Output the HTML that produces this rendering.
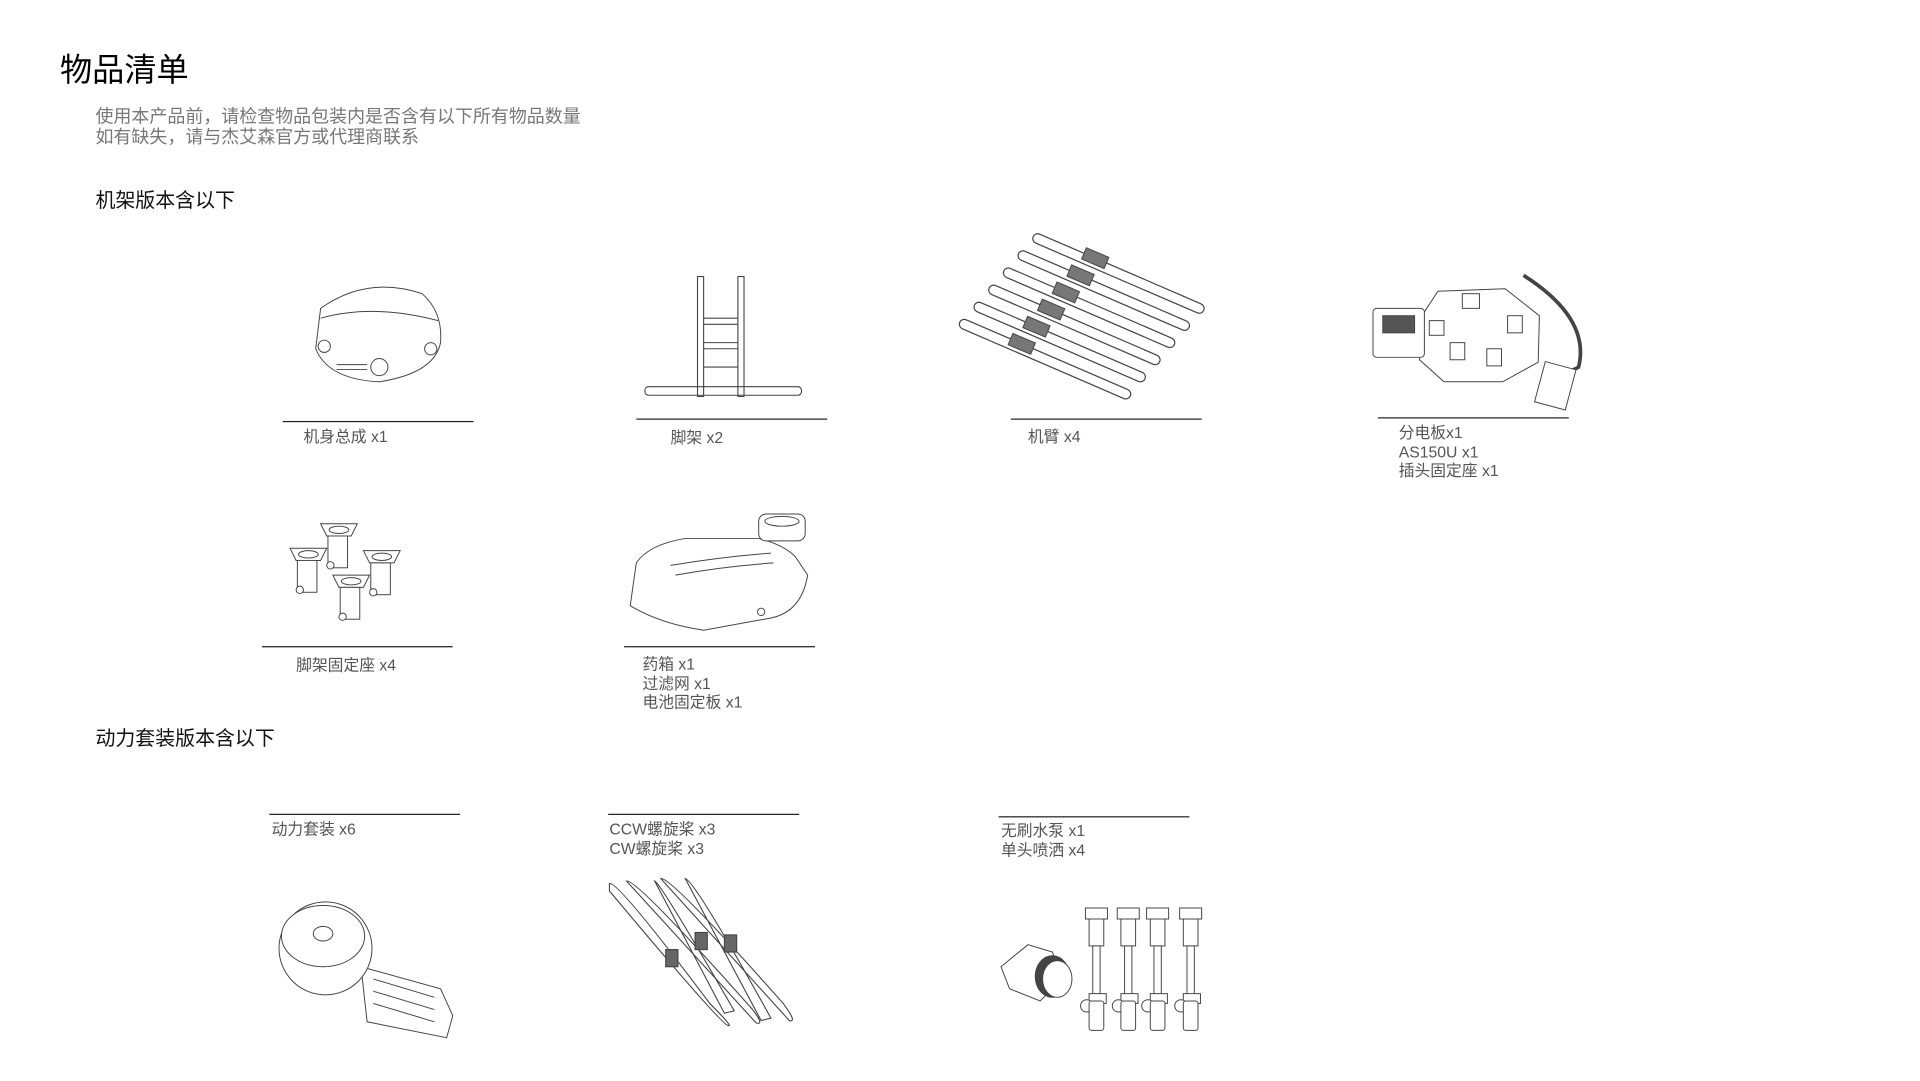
<!DOCTYPE html>
<html><head><meta charset="utf-8"><style>
html,body{margin:0;padding:0;background:#fff;width:1920px;height:1080px;overflow:hidden}
#w{position:absolute;left:0;top:0;width:1568px;height:883px;transform:scale(1.2237);transform-origin:0 0;font-family:"Liberation Sans","Noto Sans CJK SC",sans-serif}
.t{position:absolute;white-space:nowrap;line-height:1}
.l{position:absolute;height:0;border-top:1.2px solid #222;width:156px}
.lb{position:absolute;font-size:12.9px;color:#555;line-height:15.5px;white-space:nowrap}
svg{position:absolute;left:0;top:0}
</style></head><body><div id="w">
<div class="t" style="left:49px;top:44px;font-size:26.3px;color:#000">物品清单</div>
<div class="t" style="left:78px;top:88px;font-size:14.7px;color:#777;line-height:17px">使用本产品前，请检查物品包装内是否含有以下所有物品数量<br>如有缺失，请与杰艾森官方或代理商联系</div>
<div class="t" style="left:78px;top:156px;font-size:16.3px;color:#111">机架版本含以下</div>
<div class="t" style="left:78px;top:596px;font-size:16.3px;color:#111">动力套装版本含以下</div>

<div class="l" style="left:231px;top:344px"></div><div class="lb" style="left:248px;top:349px">机身总成 x1</div>
<div class="l" style="left:520px;top:342px"></div><div class="lb" style="left:548px;top:350px">脚架 x2</div>
<div class="l" style="left:826px;top:342px"></div><div class="lb" style="left:840px;top:349px">机臂 x4</div>
<div class="l" style="left:1126px;top:341px"></div><div class="lb" style="left:1143px;top:346px">分电板x1<br>AS150U x1<br>插头固定座 x1</div>
<div class="l" style="left:214px;top:528px"></div><div class="lb" style="left:242px;top:536px">脚架固定座 x4</div>
<div class="l" style="left:510px;top:528px"></div><div class="lb" style="left:525px;top:535px">药箱 x1<br>过滤网 x1<br>电池固定板 x1</div>
<div class="l" style="left:220px;top:665px"></div><div class="lb" style="left:222px;top:670px">动力套装 x6</div>
<div class="l" style="left:497px;top:665px"></div><div class="lb" style="left:498px;top:670px">CCW螺旋桨 x3<br>CW螺旋桨 x3</div>
<div class="l" style="left:816px;top:667px"></div><div class="lb" style="left:818px;top:671px">无刷水泵 x1<br>单头喷洒 x4</div>

<svg width="1568" height="883" fill="none" stroke="#444" stroke-width="0.8">
<path d="M262 252 Q300 225 345 240 Q362 255 360 280 Q355 305 310 312 Q268 310 258 285 Z"/>
<path d="M262 260 Q305 248 358 262"/><circle cx="310" cy="300" r="7"/><circle cx="265" cy="283" r="5"/><circle cx="352" cy="285" r="5"/>
<path d="M275 298 h25 M275 302 h25"/>
<g stroke-width="0.9"><rect x="570" y="226" width="5" height="98"/><rect x="603" y="226" width="5" height="98"/>
<rect x="527" y="316" width="128" height="7" rx="3"/><path d="M575 260 h28 M575 280 h28 M575 300 h28 M575 265h28 M575 285h28"/></g>
<g stroke-linecap="round">
<g id="a"><line x1="848" y1="195" x2="980" y2="252" stroke="#444" stroke-width="9"/><line x1="848" y1="195" x2="980" y2="252" stroke="#fff" stroke-width="7"/><rect x="885" y="206" width="20" height="10" transform="rotate(23 895 211)" fill="#777"/></g>
<use href="#a" transform="translate(-12 14)"/><use href="#a" transform="translate(-24 28)"/><use href="#a" transform="translate(-36 42)"/><use href="#a" transform="translate(-48 56)"/><use href="#a" transform="translate(-60 70)"/>
</g>
<path d="M1175 238 L1230 236 L1258 258 L1257 296 L1228 312 L1180 312 L1160 294 L1162 258 Z"/>
<g fill="#fff"><rect x="1195" y="240" width="14" height="12"/><rect x="1232" y="258" width="12" height="14"/><rect x="1215" y="285" width="12" height="14"/><rect x="1185" y="280" width="12" height="14"/><rect x="1168" y="262" width="12" height="12"/></g>
<rect x="1122" y="252" width="42" height="40" rx="3" fill="#fff"/><rect x="1130" y="258" width="26" height="14" fill="#555"/>
<path d="M1245 225 Q1300 260 1290 300 L1280 305" stroke-width="3"/><rect x="1258" y="298" width="26" height="34" transform="rotate(15 1270 315)" fill="#fff"/>
<g id="f" fill="#fff"><path d="M262 428 h30 l-5 10 h-20 z"/><rect x="268" y="438" width="16" height="26"/><ellipse cx="277" cy="433" rx="8" ry="3"/><circle cx="270" cy="462" r="3"/></g>
<use href="#f" transform="translate(-25 20)"/><use href="#f" transform="translate(35 22)"/><use href="#f" transform="translate(10 42)"/>
<path d="M520 460 Q530 445 560 440 L620 440 Q640 445 650 455 L660 470 Q655 500 630 505 L575 515 Q540 510 515 495 Z" fill="#fff"/>
<path d="M548 462 Q590 455 630 452 M552 470 Q590 463 632 460"/>
<rect x="620" y="420" width="38" height="22" rx="6" fill="#fff"/><ellipse cx="639" cy="426" rx="14" ry="4"/>
<circle cx="622" cy="500" r="3"/>
<path d="M295 790 L360 808 L370 830 L365 848 L300 835 Z" fill="#fff"/><path d="M305 800 L355 815 M305 810 L355 825 M305 820 L355 835"/>
<ellipse cx="266" cy="775" rx="38" ry="38" fill="#fff"/><ellipse cx="264" cy="765" rx="34" ry="25" fill="#fff"/><ellipse cx="264" cy="763" rx="8" ry="6"/>
<g stroke-width="0.9"><path d="M498 722 Q505 720 580 820 Q600 840 595 838 Q590 838 498 728 Z"/>
<path d="M512 720 Q520 718 615 825 Q625 838 618 836 Z"/>
<path d="M540 718 Q548 716 640 820 Q652 836 645 834 Z"/>
<path d="M535 720 Q540 722 600 826 L592 828 Z"/><path d="M560 718 Q568 720 630 832 L622 834 Z"/>
<rect x="544" y="776" width="10" height="14" fill="#666"/><rect x="568" y="762" width="10" height="14" fill="#666"/><rect x="592" y="764" width="10" height="14" fill="#666"/></g>
<g fill="#fff"><path d="M818 790 L840 772 L860 778 L868 800 L850 818 L825 808 Z"/><ellipse cx="860" cy="798" rx="14" ry="17" fill="#444"/><ellipse cx="864" cy="800" rx="12" ry="15"/></g>
<g id="n" fill="#fff"><rect x="887" y="742" width="18" height="9"/><rect x="890" y="751" width="12" height="22"/><rect x="893" y="773" width="6" height="40"/><rect x="890" y="812" width="14" height="8"/><circle cx="888" cy="822" r="5"/><rect x="890" y="818" width="12" height="24" rx="2"/></g>
<use href="#n" transform="translate(26 0)"/><use href="#n" transform="translate(50 0)"/><use href="#n" transform="translate(77 0)"/>
</svg>
</div></body></html>
